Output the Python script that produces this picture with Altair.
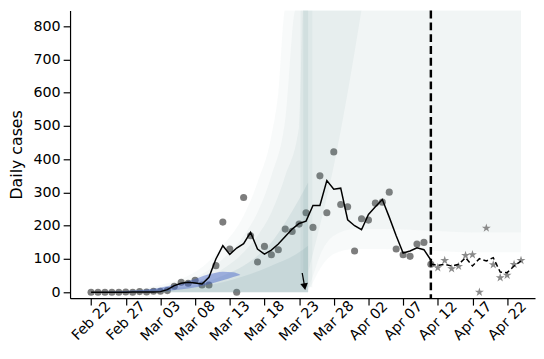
import altair as alt
import pandas as pd

# ---------------- data ----------------
tick_days = [0, 5, 10, 15, 20, 25, 30, 35, 40, 45, 50, 55, 60]
tick_labels = ["Feb 22", "Feb 27", "Mar 03", "Mar 08", "Mar 13", "Mar 18", "Mar 23",
               "Mar 28", "Apr 02", "Apr 07", "Apr 12", "Apr 17", "Apr 22"]
y_ticks = [0, 100, 200, 300, 400, 500, 600, 700, 800]

# observed daily cases (grey circles), day 0 = Feb 22
obs_cases = [0, 0, 0, 0, 0, 1, 0, 2, 1, 3,
             3, 5, 18, 30, 27, 36, 22, 22, 80, 211,
             130, 0, 285, 170, 91, 138, 113, 128, 190, 183,
             205, 239, 195, 350, 239, 422, 264, 257, 124, 221,
             217, 268, 271, 301, 130, 113, 108, 145, 150, 84]
# smoothed curve (solid black line)
smooth_cases = [0, 0, 0, 0, 0, 0, 1, 1, 1, 1,
                2, 8, 20, 27, 30, 28, 25, 45, 100, 140,
                114, 133, 146, 180, 130, 115, 127, 145, 168, 190,
                207, 214, 261, 261, 336, 310, 313, 218, 200, 188,
                234, 257, 279, 226, 170, 118, 124, 134, 128, 97]
# held-out observations (stars), starting Apr 12 (day 50)
star_start = 50
star_cases = [74, 96, 71, 78, 111, 113, 0, 193, 83, 44, 51, 84, 96]
# smoothed held-out curve (dashed black line), starting Apr 11 (day 49)
dash_start = 49
dash_cases = [85, 81, 84, 79, 84, 104, 79, 101, 94, 104, 61, 59, 79, 94]

# cut-off (vertical dashed line) and intervention arrow
cutoff_day = [49]
arrow_days = [30.45, 30.8]
arrow_vals = [58, 17]

# simulated-trajectory envelopes (spaghetti), read as nested bands
fan1_days = [0, 5, 10, 13, 16, 19, 22, 24, 26, 27, 28, 31.3]
fan1_hi = [0, 6, 22, 40, 75, 140, 230, 330, 470, 600, 850, 850]
fan2_days = [0, 5, 10, 13, 16, 19, 22, 24, 26, 28, 29.5, 31.3]
fan2_hi = [0, 4, 16, 30, 55, 100, 170, 240, 350, 520, 850, 850]
fan3_days = [0, 5, 10, 13, 16, 19, 22, 24, 26, 28, 30, 30.6, 31.3]
fan3_hi = [0, 3, 12, 22, 40, 70, 120, 170, 240, 350, 500, 850, 850]
fan4_days = [0, 5, 10, 13, 16, 19, 22, 24, 26, 28, 30, 31.3]
fan4_hi = [0, 2, 8, 15, 28, 50, 80, 110, 150, 210, 280, 330]
fan5_days = [0, 5, 10, 13, 16, 19, 22, 26, 30, 31.3]
fan5_hi = [0, 1.5, 5, 10, 18, 30, 48, 80, 120, 140]

post1_days = [31.3, 32, 33, 35, 38, 42, 49, 55, 62]
post1_lo = [5, 30, 70, 115, 130, 130, 125, 120, 120]
post2_days = [31.3, 32, 33, 35, 38, 42, 49, 55, 62]
post2_lo = [10, 50, 110, 170, 190, 190, 185, 180, 180]

near_days = [31.3, 33, 35, 37, 39]
near_lo = [60, 200, 380, 600, 849]

ridge1_days = [30.2, 31.9]
ridge1_lo = [15, 15]
ridge2_days = [30.6, 31.3]
ridge2_lo = [20, 20]

core_days = [1, 4, 8, 11, 14, 17, 19, 20.5, 21.5]
core_lo = [0, 0, 1, 4, 11, 24, 36, 46, 52]
core_hi = [1, 3, 8, 18, 33, 54, 62, 60, 53]

top_value = [850]

# ---------------- tables ----------------
obs_df = pd.DataFrame({"d": list(range(len(obs_cases))), "v": obs_cases})
smooth_df = pd.DataFrame({"d": list(range(len(smooth_cases))), "v": smooth_cases})
star_df = pd.DataFrame({"d": [star_start + i for i in range(len(star_cases))], "v": star_cases})
dash_df = pd.DataFrame({"d": [dash_start + i for i in range(len(dash_cases))], "v": dash_cases})
cut_df = pd.DataFrame({"d": cutoff_day})
arrow_df = pd.DataFrame({"d": arrow_days, "v": arrow_vals})


def band_df(days, lo, hi):
    return pd.DataFrame({"d": days, "lo": lo, "hi": hi})


label_expr = "[" + ",".join("'" + t + "'" for t in tick_labels) + "][round(datum.value/5)]"

xscale = alt.Scale(domain=[-3.03, 64.02], nice=False, zero=False)
yscale = alt.Scale(domain=[-17.8, 847], nice=False, zero=False)

xaxis = alt.Axis(orient="bottom", values=tick_days, labelExpr=label_expr, labelAngle=-45,
                 labelAlign="center", labelBaseline="middle", labelPadding=16,
                 tickSize=7, labelOverlap=False, labelFlush=False, title=None,
                 grid=False, labelBound=False)
yaxis = alt.Axis(orient="left", values=y_ticks, tickSize=7, labelPadding=3, grid=False,
                 title="Daily cases", titleAngle=270, titleX=-54, titleY=146,
                 titleAlign="center", titleBaseline="middle")

X = alt.X("d:Q", scale=xscale, axis=xaxis)


def Y(field):
    return alt.Y(field, type="quantitative", scale=yscale, axis=yaxis)


circles = alt.Chart(obs_df).mark_circle(size=52, color="#7d7d7d", opacity=1).encode(
    x=X, y=Y("v"))


def band(df, color, opacity):
    return alt.Chart(df).mark_area(color=color, opacity=opacity, clip=True,
                                   interpolate="monotone").encode(
        x=X, y=Y("lo"), y2="hi")


teal = "#5c8c90"
fan1 = band(band_df(fan1_days, [0] * len(fan1_days), fan1_hi), teal, 0.045)
fan2 = band(band_df(fan2_days, [0] * len(fan2_days), fan2_hi), teal, 0.05)
fan3 = band(band_df(fan3_days, [0] * len(fan3_days), fan3_hi), teal, 0.06)
fan4 = band(band_df(fan4_days, [0] * len(fan4_days), fan4_hi), teal, 0.11)
fan5 = band(band_df(fan5_days, [0] * len(fan5_days), fan5_hi), teal, 0.12)
post1 = band(band_df(post1_days, post1_lo, top_value * len(post1_days)), "#7d9fa3", 0.05)
post2 = band(band_df(post2_days, post2_lo, top_value * len(post2_days)), "#7d9fa3", 0.05)
near = band(band_df(near_days, near_lo, top_value * len(near_days)), teal, 0.06)
ridge1 = band(band_df(ridge1_days, ridge1_lo, top_value * len(ridge1_days)), teal, 0.06)
ridge2 = band(band_df(ridge2_days, ridge2_lo, top_value * len(ridge2_days)), teal, 0.09)
core = band(band_df(core_days, core_lo, core_hi), "#4060c8", 0.45)

smooth = alt.Chart(smooth_df).mark_line(color="black", strokeWidth=1.5).encode(
    x=X, y=Y("v"))
star_path = ("M0,-1L0.2245,-0.309L0.951,-0.309L0.363,0.118L0.588,0.809L0,0.382"
             "L-0.588,0.809L-0.363,0.118L-0.951,-0.309L-0.2245,-0.309Z")
stars = alt.Chart(star_df).mark_point(shape=star_path, filled=True, size=90,
                                      color="#8a8a8a", opacity=1).encode(x=X, y=Y("v"))
dashed = alt.Chart(dash_df).mark_line(color="black", strokeWidth=1.5,
                                      strokeDash=[5, 3]).encode(x=X, y=Y("v"))
cut = alt.Chart(cut_df).mark_rule(color="black", strokeWidth=2.5,
                                  strokeDash=[8, 4]).encode(x=X)
arrow_line = alt.Chart(arrow_df).mark_line(color="black", strokeWidth=1.3).encode(
    x=X, y=Y("v"))
arrow_head = alt.Chart(arrow_df.tail(1)).mark_point(
    shape="triangle-down", filled=True, size=60, color="black", opacity=1,
    angle=350).encode(x=X, y=Y("v"))

chart = alt.layer(
    circles, fan1, fan2, fan3, fan4, fan5, post1, post2, near, ridge1, ridge2, core,
    smooth, stars, dashed, cut, arrow_line, arrow_head
).properties(
    width=472, height=292,
    autosize=alt.AutoSizeParams(type="none"),
    padding={"left": 63, "top": 0, "right": 1, "bottom": 51},
).configure_view(stroke=None).configure_axis(
    domainColor="black", tickColor="black", labelColor="black",
    titleColor="black", labelFont="DejaVu Sans", titleFont="DejaVu Sans",
    labelFontSize=14.5, titleFontSize=16, titleFontWeight="normal",
    domainWidth=1.2, tickWidth=1.2,
)

chart.save("out.html", embed_options={"renderer": "svg", "actions": False})
